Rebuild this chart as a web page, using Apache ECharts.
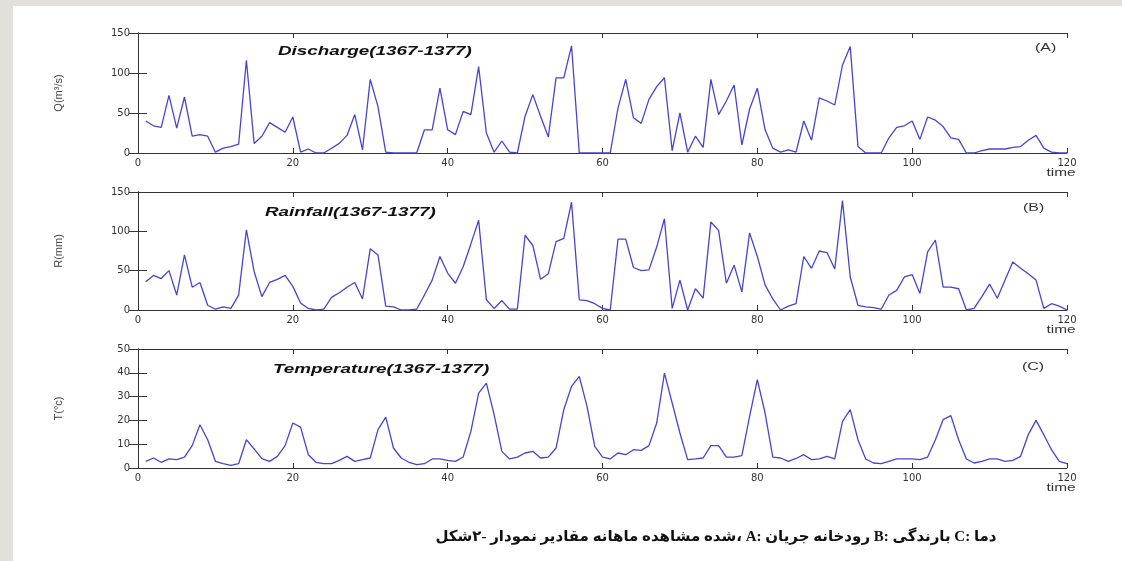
<!DOCTYPE html>
<html>
<head>
<meta charset="utf-8">
<script src="https://cdn.jsdelivr.net/npm/echarts@6/dist/echarts.min.js"></script>
<style>
  html, body { margin: 0; padding: 0; background: #ffffff; }
  #chart { width: 1122px; height: 561px; }
</style>
</head>
<body>
<div id="chart"></div>
<script>
// Monthly observed series, months 1..120 (1367-1377)
const discharge = [
  40, 34, 32, 72, 31, 70, 21, 23, 21, 1,
  6, 8, 11, 116, 12, 21, 38, 32, 26, 45,
  1, 5, 0, 0, 6, 12, 22, 48, 4, 92,
  58, 1, 0, 0, 0, 0, 29, 29, 81, 29,
  23, 52, 48, 108, 25, 1, 15, 1, 0, 46,
  73, 46, 20, 94, 94, 134, 0, 0, 0, 0,
  0, 56, 92, 44, 37, 67, 83, 94, 3, 50,
  1, 21, 7, 92, 48, 65, 85, 10, 55, 81,
  29, 6, 1, 4, 1, 40, 16, 69, 65, 60,
  110, 133, 8, 0, 0, 0, 19, 32, 34, 40,
  17, 45, 41, 33, 19, 17, 0, 0, 3, 5,
  5, 5, 7, 8, 16, 22, 6, 1, 0, 0
];
const rainfall = [
  36, 44, 40, 50, 19, 70, 29, 35, 6, 1,
  4, 2, 19, 102, 49, 17, 35, 39, 44, 30,
  9, 2, 0, 1, 16, 22, 29, 35, 14, 78,
  70, 5, 4, 0, 0, 1, 19, 38, 68, 47,
  34, 55, 84, 114, 13, 2, 12, 1, 1, 95,
  82, 39, 46, 87, 91, 137, 13, 12, 8, 2,
  0, 90, 90, 54, 50, 51, 80, 116, 2, 38,
  0, 27, 15, 112, 101, 34, 57, 23, 98, 68,
  32, 14, 0, 5, 8, 68, 53, 75, 73, 52,
  139, 42, 6, 4, 3, 1, 19, 25, 42, 45,
  21, 74, 89, 29, 29, 27, 0, 2, 17, 33,
  15, 38, 61, 53, 46, 38, 2, 8, 5, 0
];
const temperature = [
  2.8, 4.2, 2.4, 3.8, 3.5, 4.6, 9.4, 18.2, 11.9, 2.8,
  1.8, 1.1, 1.8, 11.9, 8.0, 3.9, 2.8, 4.9, 9.4, 18.9,
  17.2, 5.6, 2.4, 1.8, 1.8, 3.2, 4.9, 2.8, 3.5, 4.2,
  16.1, 21.4, 8.4, 4.2, 2.4, 1.4, 1.8, 3.8, 3.8, 3.2,
  2.8, 4.6, 15.4, 31.5, 35.7, 22.4, 7.0, 3.8, 4.6, 6.3,
  7.0, 4.2, 4.6, 8.4, 24.5, 34.3, 38.5, 25.9, 9.1, 4.6,
  3.8, 6.3, 5.6, 7.7, 7.4, 9.4, 18.9, 39.9, 27.3, 14.7,
  3.5, 3.8, 4.2, 9.4, 9.4, 4.6, 4.6, 5.2, 21.7, 37.1,
  23.1, 4.6, 4.2, 2.8, 4.0, 5.6, 3.5, 3.8, 4.9, 3.8,
  19.6, 24.5, 11.9, 3.8, 2.1, 1.8, 2.8, 3.8, 3.8, 3.8,
  3.5, 4.6, 11.9, 20.3, 22.0, 11.9, 3.8, 2.1, 2.8, 3.8,
  3.8, 2.8, 3.2, 4.9, 14.0, 20.0, 14.0, 7.7, 2.8, 1.8
];

// Axis ranges and labels
const timeRange = { min: 0, max: 120, interval: 20 };
const yNames = ['Q(m³/s)', 'R(mm)', 'T(°c)'];
const yRanges = [
  { min: 0, max: 150, interval: 50 },
  { min: 0, max: 150, interval: 50 },
  { min: 0, max: 50, interval: 10 }
];
const panelTitles = ['Discharge(1367-1377)', 'Rainfall(1367-1377)', 'Temperature(1367-1377)'];
const panelTags = ['(A)', '(B)', '(C)'];
const xAxisName = 'time';
// caption words, in the order they sit on the line from left to right
const captionWords = ['شکل\u200E۲-', 'نمودار', 'مقادیر', 'ماهانه', 'مشاهده', 'شده،', 'A:', 'جریان', 'رودخانه', 'B:', 'بارندگی', 'C:', 'دما'];

const seriesValues = [discharge, rainfall, temperature];
const months = discharge.map((_, i) => i + 1);

// Layout of the three stacked plot boxes
const PLOT_LEFT = 138, PLOT_WIDTH = 929;
const boxes = [
  { top: 33, height: 120 },
  { top: 192, height: 118 },
  { top: 349, height: 119 }
];
const titleY = [51, 212, 369];
const titleX = [278, 265, 273];
const tagY = [48, 208, 367];
const tagX = [1035, 1023, 1022];

const LINE_COLOR = '#4545cf';
const AXIS_COLOR = '#333333';
const TICK_FONT = "'DejaVu Sans', sans-serif";

const grids = [], xAxes = [], yAxes = [], series = [], graphics = [];

boxes.forEach((b, i) => {
  grids.push({ left: PLOT_LEFT, top: b.top, width: PLOT_WIDTH, height: b.height, containLabel: false });

  const xBase = {
    type: 'value', gridIndex: i, ...timeRange,
    axisLine: { show: true, onZero: false, lineStyle: { color: AXIS_COLOR, width: 1 } },
    axisTick: { show: true, inside: true, length: 5, lineStyle: { color: AXIS_COLOR } },
    splitLine: { show: false }
  };
  xAxes.push({ ...xBase, position: 'bottom',
    axisLabel: { color: '#333', fontSize: 10, fontFamily: TICK_FONT, margin: 5 } });
  xAxes.push({ ...xBase, position: 'top', axisLabel: { show: false } });

  const yBase = {
    type: 'value', gridIndex: i, ...yRanges[i],
    axisLine: { show: true, lineStyle: { color: AXIS_COLOR, width: 1 } },
    axisTick: { show: true, inside: true, length: 9, lineStyle: { color: AXIS_COLOR } },
    splitLine: { show: false }
  };
  yAxes.push({ ...yBase, position: 'left',
    name: yNames[i], nameLocation: 'middle', nameGap: 74, nameRotate: 90,
    nameTextStyle: { color: '#444', fontSize: 11, fontFamily: "'Liberation Sans', Arial, sans-serif" },
    axisLabel: { color: '#333', fontSize: 10, fontFamily: TICK_FONT, margin: 8 } });
  yAxes.push({ ...yBase, position: 'right', axisLabel: { show: false } });

  series.push({
    type: 'line', xAxisIndex: 2 * i, yAxisIndex: 2 * i,
    data: seriesValues[i].map((v, k) => [months[k], v]),
    showSymbol: false, smooth: false, animation: false,
    lineStyle: { color: LINE_COLOR, width: 1.3 }
  });

  // panel title, stretched like the printed figure
  graphics.push({
    type: 'text', x: titleX[i], y: titleY[i], scaleX: 1.45,
    style: { text: panelTitles[i], fill: '#111', font: "italic bold 13px 'Liberation Sans', Arial, sans-serif",
      textAlign: 'left', textVerticalAlign: 'middle' }
  });
  graphics.push({
    type: 'text', x: tagX[i], y: tagY[i], scaleX: 1.45,
    style: { text: panelTags[i], fill: '#333', font: "11px 'Liberation Sans', Arial, sans-serif",
      textAlign: 'left', textVerticalAlign: 'middle' }
  });
  graphics.push({
    type: 'text', x: 1061, y: b.top + b.height + 20, scaleX: 1.4,
    style: { text: xAxisName, fill: '#333', font: "11px 'Liberation Sans', Arial, sans-serif",
      textAlign: 'center', textVerticalAlign: 'middle' }
  });
});

// page edges
graphics.unshift(
  { type: 'rect', shape: { x: 0, y: 0, width: 1122, height: 6 }, style: { fill: '#e1e0db' }, silent: true },
  { type: 'rect', shape: { x: 0, y: 0, width: 13, height: 561 }, style: { fill: '#e1e0db' }, silent: true }
);

// caption: words laid out left to right, each shaped right to left
graphics.push({
  type: 'text', x: 716, y: 537,
  style: { text: captionWords.join('\u200E '), fill: '#111',
    font: "bold 15px 'Liberation Serif', 'DejaVu Sans', serif",
    textAlign: 'center', textVerticalAlign: 'middle' }
});

const chart = echarts.init(document.getElementById('chart'));
chart.setOption({
  backgroundColor: '#ffffff',
  animation: false,
  grid: grids,
  xAxis: xAxes,
  yAxis: yAxes,
  series: series,
  graphic: graphics
});
</script>
</body>
</html>
